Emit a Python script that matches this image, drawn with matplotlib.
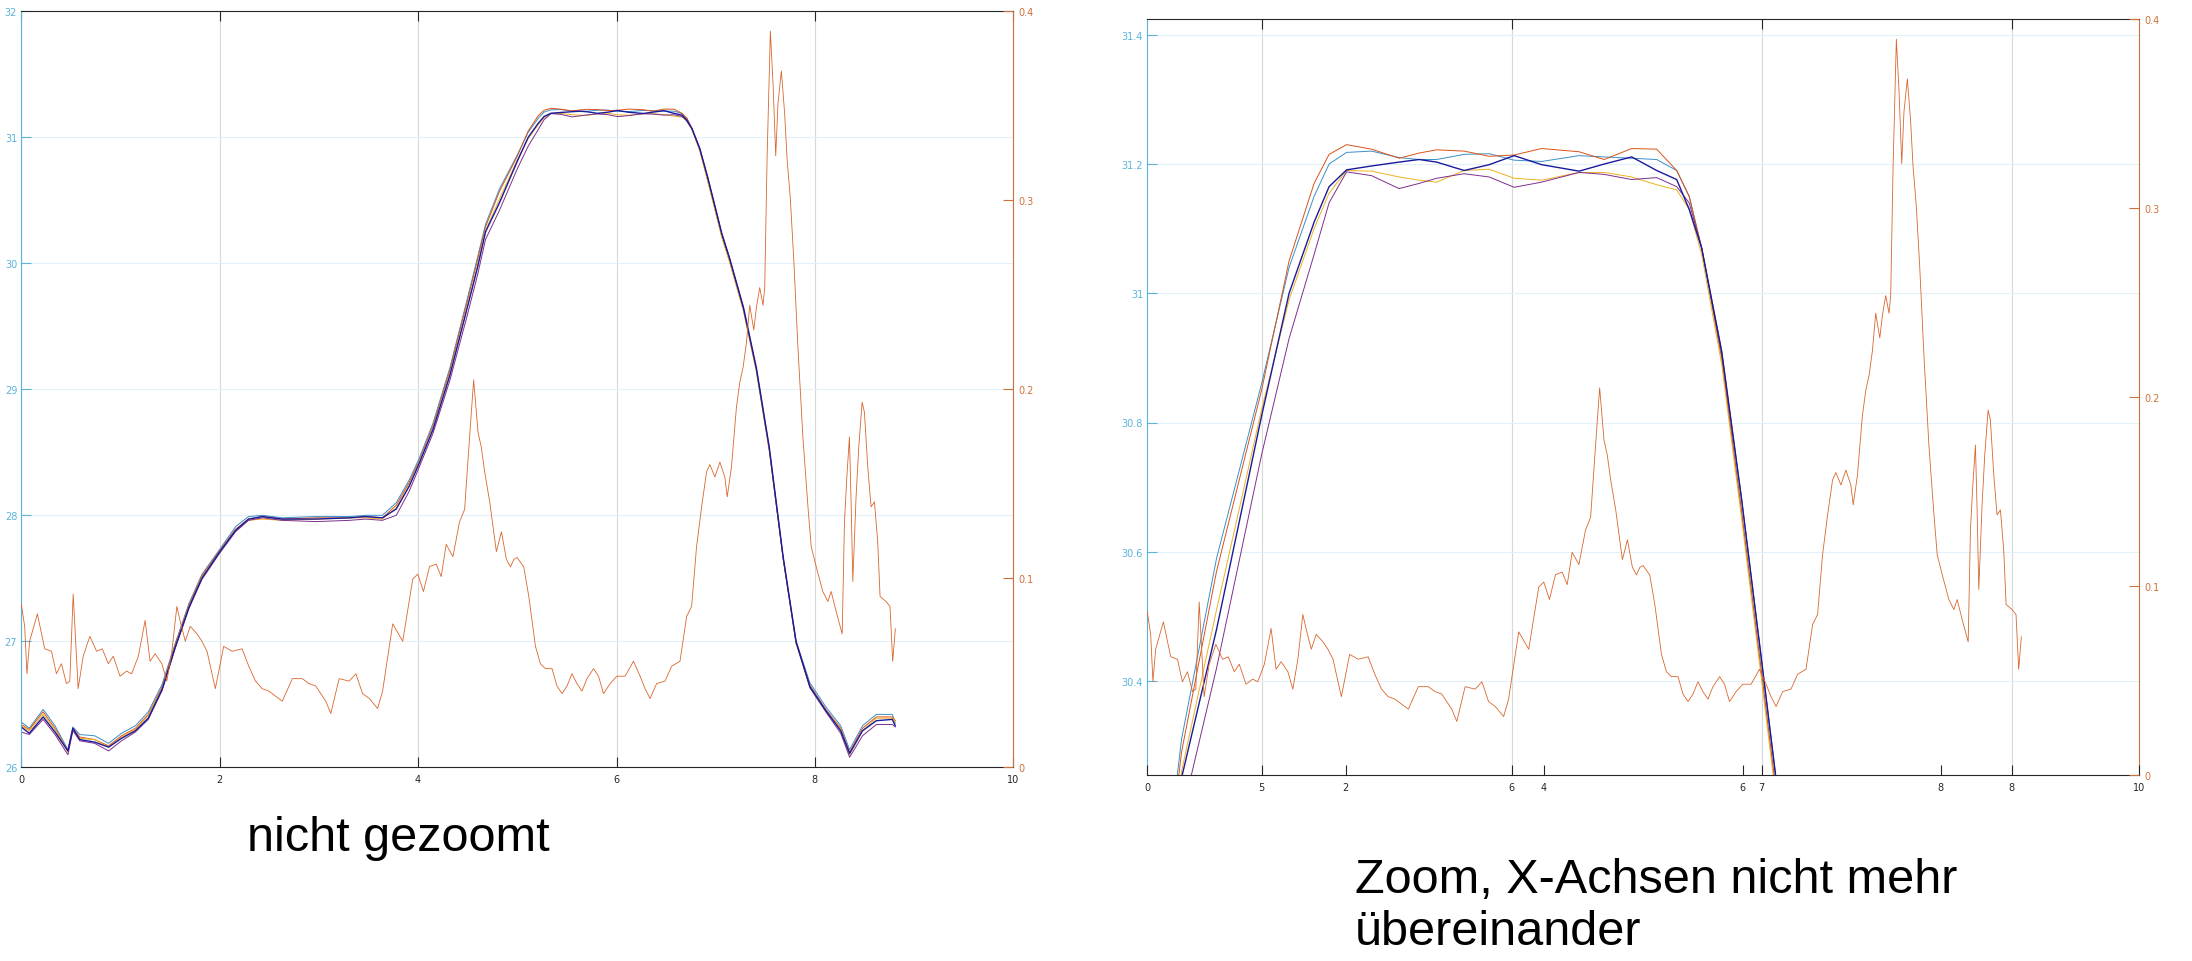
import matplotlib
matplotlib.use("Agg")
import matplotlib.pyplot as plt
from matplotlib.ticker import FuncFormatter, FixedLocator

# time base of the five temperature curves
temp_t = [0.00, 0.08, 0.22, 0.34, 0.47, 0.52, 0.59, 0.74, 0.88, 1.01,
          1.15, 1.28, 1.42, 1.55, 1.69, 1.82, 2.00, 2.16, 2.29, 2.43,
          2.63, 2.97, 3.31, 3.47, 3.64, 3.78, 3.91, 4.01, 4.15, 4.32,
          4.49, 4.60, 4.68, 4.82, 5.00, 5.11, 5.21, 5.27, 5.34, 5.44, 5.55,
          5.63, 5.70, 5.81, 5.91, 6.01, 6.12, 6.27, 6.37, 6.48, 6.58,
          6.66, 6.71, 6.76, 6.84, 6.92, 7.00, 7.06, 7.14, 7.28, 7.41,
          7.54, 7.68, 7.81, 7.95, 8.11, 8.26, 8.35, 8.48, 8.62, 8.78,
          8.81]

temp_blue = [26.36, 26.31, 26.46, 26.33, 26.14, 26.32, 26.26, 26.25, 26.19, 26.27,
             26.33, 26.44, 26.66, 26.98, 27.30, 27.53, 27.73, 27.91, 27.99, 28.00,
             27.98, 27.99, 27.99, 28.00, 28.00, 28.10, 28.28, 28.45, 28.73, 29.17,
             29.70, 30.05, 30.31, 30.59, 30.86, 31.04, 31.15, 31.20, 31.218, 31.220, 31.210,
             31.207, 31.207, 31.215, 31.216, 31.206, 31.204, 31.213, 31.211, 31.209, 31.207,
             31.19, 31.15, 31.07, 30.90, 30.66, 30.41, 30.22, 30.02, 29.63, 29.15,
             28.52, 27.66, 27.00, 26.67, 26.48, 26.33, 26.14, 26.33, 26.42, 26.42,
             26.35]

temp_orange = [26.34, 26.30, 26.44, 26.31, 26.13, 26.31, 26.24, 26.22, 26.17, 26.25,
               26.31, 26.42, 26.64, 26.97, 27.29, 27.52, 27.72, 27.89, 27.97, 27.99,
               27.97, 27.98, 27.98, 27.99, 27.98, 28.08, 28.26, 28.43, 28.71, 29.15,
               29.68, 30.03, 30.29, 30.57, 30.85, 31.05, 31.17, 31.215, 31.230, 31.223, 31.209,
               31.217, 31.222, 31.220, 31.212, 31.214, 31.224, 31.219, 31.207, 31.224, 31.223,
               31.19, 31.15, 31.07, 30.90, 30.66, 30.41, 30.22, 30.02, 29.63, 29.15,
               28.52, 27.66, 26.99, 26.65, 26.46, 26.31, 26.12, 26.31, 26.40, 26.40,
               26.37]

temp_yellow = [26.33, 26.29, 26.42, 26.30, 26.12, 26.30, 26.23, 26.22, 26.16, 26.24,
               26.30, 26.41, 26.63, 26.96, 27.28, 27.51, 27.71, 27.88, 27.96, 27.97,
               27.96, 27.97, 27.98, 27.98, 27.97, 28.06, 28.24, 28.42, 28.69, 29.12,
               29.64, 29.99, 30.26, 30.51, 30.82, 30.99, 31.10, 31.155, 31.190, 31.189, 31.180,
               31.175, 31.172, 31.190, 31.192, 31.178, 31.175, 31.187, 31.187, 31.180, 31.168,
               31.16, 31.13, 31.06, 30.89, 30.65, 30.40, 30.21, 30.01, 29.62, 29.14,
               28.51, 27.65, 26.98, 26.64, 26.45, 26.30, 26.10, 26.29, 26.39, 26.39,
               26.36]

temp_purple = [26.28, 26.26, 26.38, 26.26, 26.10, 26.29, 26.21, 26.19, 26.13, 26.21,
               26.28, 26.38, 26.61, 26.94, 27.26, 27.49, 27.70, 27.87, 27.96, 27.98,
               27.96, 27.95, 27.96, 27.97, 27.96, 28.00, 28.19, 28.38, 28.65, 29.07,
               29.57, 29.91, 30.19, 30.42, 30.75, 30.93, 31.06, 31.14, 31.188, 31.182, 31.162,
               31.170, 31.178, 31.185, 31.180, 31.164, 31.172, 31.187, 31.184, 31.176, 31.179,
               31.165, 31.14, 31.07, 30.91, 30.68, 30.43, 30.24, 30.04, 29.64, 29.16,
               28.53, 27.66, 26.99, 26.63, 26.44, 26.27, 26.08, 26.25, 26.34, 26.34,
               26.32]

temp_navy = [26.32, 26.27, 26.40, 26.28, 26.13, 26.31, 26.22, 26.20, 26.16, 26.23,
             26.29, 26.39, 26.62, 26.95, 27.27, 27.50, 27.71, 27.88, 27.97, 27.99,
             27.97, 27.97, 27.98, 27.99, 27.98, 28.05, 28.23, 28.41, 28.68, 29.11,
             29.63, 29.97, 30.25, 30.48, 30.81, 31.00, 31.11, 31.165, 31.191, 31.197, 31.203,
             31.207, 31.203, 31.190, 31.199, 31.213, 31.199, 31.189, 31.200, 31.211, 31.190,
             31.176, 31.13, 31.07, 30.91, 30.68, 30.43, 30.24, 30.04, 29.65, 29.17,
             28.54, 27.67, 27.00, 26.64, 26.45, 26.29, 26.11, 26.29, 26.37, 26.38,
             26.33]

# noisy signal on the right-hand axis
noise_t = [0.000, 0.034, 0.057, 0.084, 0.162, 0.236, 0.304, 0.354, 0.405, 0.455,
           0.489, 0.523, 0.573, 0.624, 0.691, 0.759, 0.816, 0.877, 0.927, 0.995,
           1.062, 1.113, 1.180, 1.248, 1.298, 1.349, 1.417, 1.467, 1.518, 1.568,
           1.602, 1.653, 1.703, 1.771, 1.821, 1.872, 1.956, 2.040, 2.125, 2.226,
           2.293, 2.361, 2.428, 2.496, 2.631, 2.732, 2.833, 2.900, 2.968, 3.069,
           3.120, 3.204, 3.305, 3.373, 3.440, 3.508, 3.592, 3.642, 3.744, 3.845,
           3.946, 3.997, 4.054, 4.115, 4.182, 4.233, 4.283, 4.351, 4.418, 4.469,
           4.519, 4.560, 4.604, 4.637, 4.671, 4.722, 4.755, 4.789, 4.840, 4.890,
           4.931, 4.965, 4.998, 5.065, 5.116, 5.183, 5.233, 5.283, 5.350, 5.400,
           5.451, 5.501, 5.551, 5.601, 5.652, 5.702, 5.769, 5.819, 5.869, 5.936,
           6.003, 6.087, 6.171, 6.238, 6.288, 6.338, 6.405, 6.489, 6.556, 6.640,
           6.707, 6.757, 6.807, 6.858, 6.908, 6.941, 6.992, 7.042, 7.092, 7.116,
           7.159, 7.209, 7.243, 7.276, 7.310, 7.343, 7.384, 7.410, 7.444, 7.477,
           7.494, 7.518, 7.551, 7.578, 7.605, 7.628, 7.662, 7.695, 7.719, 7.752,
           7.786, 7.829, 7.879, 7.930, 7.963, 8.013, 8.080, 8.131, 8.164, 8.214,
           8.275, 8.298, 8.322, 8.348, 8.365, 8.382, 8.415, 8.442, 8.476, 8.499,
           8.533, 8.566, 8.600, 8.633, 8.657, 8.717, 8.757, 8.784, 8.811]

noise_val = [0.0864, 0.0746, 0.0495, 0.0667, 0.0812, 0.0627, 0.0614, 0.0495, 0.0548, 0.0443,
             0.0456, 0.0917, 0.0416, 0.0588, 0.0693, 0.0614, 0.0627, 0.0548, 0.0588, 0.0482,
             0.0509, 0.0495, 0.0588, 0.0777, 0.0561, 0.0601, 0.0548, 0.0456, 0.0614, 0.0851,
             0.0772, 0.0667, 0.0746, 0.0706, 0.0667, 0.0614, 0.0416, 0.0640, 0.0614, 0.0627,
             0.0535, 0.0456, 0.0416, 0.0403, 0.0350, 0.0469, 0.0469, 0.0443, 0.0430, 0.0350,
             0.0285, 0.0469, 0.0456, 0.0495, 0.0390, 0.0364, 0.0311, 0.0403, 0.0759, 0.0667,
             0.0996, 0.1022, 0.0930, 0.1062, 0.1075, 0.1009, 0.1180, 0.1115, 0.1299, 0.1365,
             0.1747, 0.2050, 0.1773, 0.1694, 0.1563, 0.1404, 0.1273, 0.1141, 0.1246, 0.1101,
             0.1060, 0.1100, 0.1110, 0.1060, 0.0904, 0.0640, 0.0548, 0.0522, 0.0522, 0.0430,
             0.0390, 0.0430, 0.0495, 0.0443, 0.0403, 0.0469, 0.0522, 0.0482, 0.0390, 0.0443,
             0.0482, 0.0482, 0.0561, 0.0482, 0.0416, 0.0364, 0.0443, 0.0456, 0.0535, 0.0561,
             0.0798, 0.0851, 0.1167, 0.1378, 0.1563, 0.1602, 0.1536, 0.1615, 0.1536, 0.1431,
             0.1589, 0.1905, 0.2037, 0.2116, 0.2248, 0.2445, 0.2314, 0.2432, 0.2538, 0.2445,
             0.2538, 0.3223, 0.3895, 0.3618, 0.3236, 0.3513, 0.3684, 0.3460, 0.3223, 0.3012,
             0.2696, 0.2221, 0.1747, 0.1378, 0.1167, 0.1062, 0.0930, 0.0877, 0.0930, 0.0825,
             0.0706, 0.1300, 0.1536, 0.1747, 0.1404, 0.0983, 0.1431, 0.1694, 0.1932, 0.1879,
             0.1589, 0.1378, 0.1404, 0.1194, 0.0904, 0.0877, 0.0851, 0.0561, 0.0733]

full_xticks = [0, 2, 4, 6, 8, 10]
full_yticks = [26, 27, 28, 29, 30, 31, 32]
noise_yticks = [0, 0.1, 0.2, 0.3, 0.4]
zoom_xticks = [5, 6, 7, 8]
zoom_yticks = [30.4, 30.6, 30.8, 31.0, 31.2, 31.4]
caption_left = "nicht gezoomt"
caption_right = ["Zoom, X-Achsen nicht mehr", "übereinander"]

series = [(temp_blue, "#3a8fc8", 0.7),
          (temp_orange, "#d95319", 0.7),
          (temp_yellow, "#edb120", 0.7),
          (temp_purple, "#7e2f8e", 0.7),
          (temp_navy, "#1a1a9c", 1.0)]

BLUE_AX = "#5ab3da"
ORANGE_AX = "#d0713a"
NOISE_C = "#d9662e"
DARK = "#262626"

W, H = 2192, 962
fig = plt.figure(figsize=(W / 100, H / 100), dpi=100)
fmt = FuncFormatter(lambda v, p: "%g" % round(v, 6))


def rect(x0, top, w, h):
    return [x0 / W, 1 - (top + h) / H, w / W, h / H]


def style_main(ax, xticks, yticks):
    ax.xaxis.set_major_locator(FixedLocator(xticks))
    ax.yaxis.set_major_locator(FixedLocator(yticks))
    ax.xaxis.set_major_formatter(fmt)
    ax.yaxis.set_major_formatter(fmt)
    ax.grid(axis="x", color="#d8d8d8", lw=0.8)
    ax.grid(axis="y", color="#e2f1f8", lw=0.8)
    ax.set_axisbelow(True)
    ax.tick_params(axis="x", direction="in", length=7, width=0.8, top=True,
                   colors=DARK, labelsize=7, pad=5)
    ax.tick_params(axis="y", direction="in", length=7, width=0.8, right=False,
                   colors=BLUE_AX, labelsize=7, pad=3)
    for s in ["top", "bottom"]:
        ax.spines[s].set_color(DARK)
        ax.spines[s].set_linewidth(0.8)
    ax.spines["left"].set_color(BLUE_AX)
    ax.spines["left"].set_linewidth(0.8)
    ax.spines["right"].set_color(ORANGE_AX)
    ax.spines["right"].set_linewidth(0.8)


def style_noise(ax):
    ax.set_ylim(0, 0.4)
    ax.yaxis.set_major_locator(FixedLocator(noise_yticks))
    ax.yaxis.set_major_formatter(fmt)
    ax.tick_params(axis="y", direction="in", length=7, width=0.8, left=False,
                   right=True, labelleft=False, labelright=True,
                   colors=ORANGE_AX, labelsize=7, pad=4)
    for s in ax.spines.values():
        s.set_visible(False)


# ---- left: full view
ax1 = fig.add_axes(rect(21.3, 12.3, 992, 756))
for ys, c, lw in series:
    ax1.plot(temp_t, ys, color=c, lw=lw)
ax1.set_xlim(0, 10)
ax1.set_ylim(26, 32)
style_main(ax1, full_xticks, full_yticks)

ax2 = ax1.twinx()
ax2.plot(noise_t, noise_val, color=NOISE_C, lw=0.6)
style_noise(ax2)

# ---- right: zoomed, noise axis keeps its own x range
ax3 = fig.add_axes(rect(1147.3, 20.3, 992, 756))
for ys, c, lw in series:
    ax3.plot(temp_t, ys, color=c, lw=lw)
ax3.set_xlim(4.543, 8.51)
ax3.set_ylim(30.254, 31.424)
style_main(ax3, zoom_xticks, zoom_yticks)

ax4 = fig.add_axes(rect(1147.3, 20.3, 992, 756), frameon=False)
ax4.patch.set_visible(False)
ax4.plot(noise_t, noise_val, color=NOISE_C, lw=0.6)
ax4.set_xlim(0, 10)
ax4.xaxis.set_major_locator(FixedLocator(full_xticks))
ax4.xaxis.set_major_formatter(fmt)
ax4.tick_params(axis="x", direction="in", length=7, width=0.8, top=False,
                colors=DARK, labelsize=7, pad=5)
style_noise(ax4)

# ---- captions
fig.text(247 / W, 1 - 851 / H, caption_left, fontsize=35,
         family="Liberation Sans", va="baseline", ha="left")
fig.text(1355 / W, 1 - 893 / H, caption_right[0], fontsize=35,
         family="Liberation Sans", va="baseline", ha="left")
fig.text(1355 / W, 1 - 945 / H, caption_right[1], fontsize=35,
         family="Liberation Sans", va="baseline", ha="left")

fig.savefig("out.png", dpi=100)
